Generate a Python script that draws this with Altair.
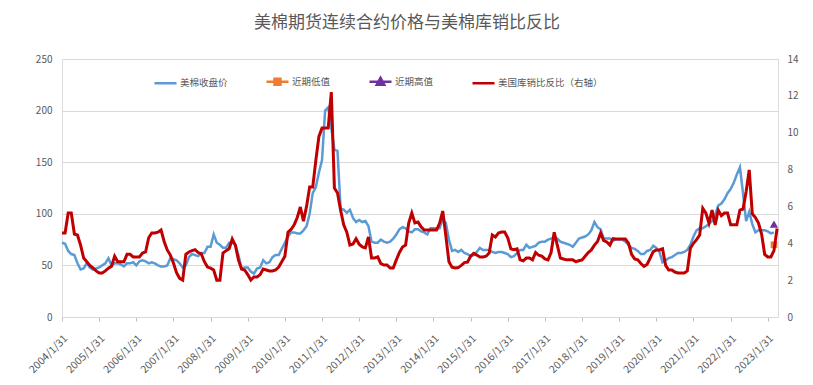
import altair as alt
import pandas as pd

# ---- data (monthly, month index 0 = 2004/1) ----
price = [
    72, 71, 64, 61, 60, 52, 46, 47, 52, 48, 46, 47,          # 2004
    48, 50, 52, 57, 50, 52, 52, 51, 49, 52, 52, 53,          # 2005
    50, 54, 55, 54, 52, 53, 52, 50, 49, 49, 50, 57,          # 2006
    56, 55, 52, 48, 50, 58, 61, 60, 59, 62, 62, 68,          # 2007
    68, 80, 72, 70, 67, 67, 72, 72, 70, 60, 47, 48,          # 2008
    48, 44, 42, 47, 48, 55, 52, 53, 58, 60, 60, 66,          # 2009
    72, 78, 82, 82, 81, 81, 84, 88, 100, 120, 126, 140,      # 2010
    152, 200, 203, 183, 162, 161, 105, 104, 101, 104, 96, 92,  # 2011
    94, 92, 93, 88, 73, 72, 72, 75, 73, 72, 73, 76,          # 2012
    80, 85, 87, 86, 83, 82, 85, 85, 83, 82, 80, 86,          # 2013
    86, 86, 86, 95, 91, 75, 64, 65, 63, 65, 62, 61,          # 2014
    59, 60, 63, 67, 65, 65, 65, 63, 62, 63, 63, 62,          # 2015
    61, 58, 59, 62, 65, 65, 70, 67, 68, 69, 72, 73,          # 2016
    73, 75, 76, 77, 76, 73, 72, 71, 70, 68, 72, 76,          # 2017
    77, 78, 80, 84, 92, 87, 85, 76, 76, 76, 74, 75,          # 2018
    75, 75, 73, 70, 67, 66, 64, 61, 61, 64, 65, 69,          # 2019
    67, 63, 53, 55, 57, 58, 60, 62, 62, 63, 65, 70,          # 2020
    78, 84, 86, 86, 88, 90, 93, 99, 108, 110, 114, 120,      # 2021
    124, 130, 138, 145, 120, 93, 102, 90, 82, 84, 84, 84,    # 2022
    83, 81, 82,                                              # 2023
]

ratio = [
    4.56, 4.56, 5.64, 5.64, 4.5, 4.45, 3.9, 3.2, 3.0, 2.8, 2.66, 2.5,        # 2004
    2.39, 2.39, 2.5, 2.65, 2.75, 3.3, 3.0, 3.0, 3.0, 3.4, 3.4, 3.26,         # 2005
    3.26, 3.26, 3.47, 3.53, 4.3, 4.56, 4.56, 4.6, 4.72, 4.1, 3.64, 3.36,     # 2006
    2.93, 2.4, 2.1, 2.0, 3.4, 3.53, 3.6, 3.65, 3.5, 3.42, 3.0, 2.71,         # 2007
    2.65, 2.55, 2.0, 2.0, 3.47, 3.6, 3.7, 4.23, 3.9, 3.1, 2.6, 2.55,         # 2008
    2.3, 2.0, 2.17, 2.17, 2.3, 2.6, 2.55, 2.5, 2.5, 2.55, 2.71, 3.0,         # 2009
    3.3, 4.6, 4.75, 5.0, 5.4, 5.97, 5.2, 6.0, 7.05, 7.05, 8.5, 9.8,          # 2010
    10.25, 10.25, 10.25, 12.2, 7.0, 6.73, 5.8, 5.0, 4.6, 3.9, 3.96, 4.25,    # 2011
    3.95, 3.8, 3.75, 4.34, 3.2, 3.2, 3.26, 2.9, 2.82, 2.82, 2.66, 2.66,      # 2012
    3.1, 3.5, 3.8, 3.9, 5.1, 5.64, 5.1, 5.15, 4.9, 4.72, 4.72, 4.72,         # 2013
    4.72, 4.72, 5.1, 5.75, 4.4, 3.0, 2.7, 2.66, 2.68, 2.8, 2.95, 2.98,       # 2014
    3.3, 3.45, 3.36, 3.26, 3.26, 3.3, 3.47, 4.45, 4.34, 4.56, 4.61, 4.61,    # 2015
    4.3, 3.7, 3.65, 3.7, 3.1, 3.05, 3.2, 3.2, 3.1, 3.5, 3.35, 3.3,           # 2016
    3.15, 3.1, 3.5, 4.6, 3.9, 3.2, 3.15, 3.1, 3.1, 3.1, 3.0, 3.05,           # 2017
    3.1, 3.3, 3.5, 3.64, 3.9, 4.1, 4.55, 4.15, 4.07, 3.9, 4.25, 4.23,        # 2018
    4.23, 4.23, 4.23, 4.0, 3.4, 3.15, 3.1, 2.9, 2.75, 2.85, 3.2, 3.55,       # 2019
    3.64, 3.64, 3.7, 2.8, 2.55, 2.55, 2.44, 2.39, 2.39, 2.39, 2.5, 3.74,     # 2020
    4.0, 4.2, 4.45, 5.9, 5.64, 5.1, 5.8, 5.0, 5.8, 5.5, 5.64, 5.64,          # 2021
    5.0, 5.0, 5.0, 5.8, 5.86, 6.8, 7.98, 5.6, 5.4, 5.1, 4.5, 3.4,            # 2022
    3.26, 3.26, 3.6, 4.8,                                                    # 2023
]

recent_low = [70]
recent_high = [90]
marker_month = [230]

series_names = ["美棉收盘价", "近期低值", "近期高值", "美国库销比反比（右轴）"]
series_colors = ["#5B9BD5", "#ED7D31", "#7030A0", "#C00000"]
legend_shapes = [
    "M-1,0H1",
    "M-1,0H1M-0.27,-0.27H0.27V0.27H-0.27Z",
    "M-1,0H1M0,-0.36L0.34,0.26H-0.34Z",
    "M-1,0H1",
]

year_ticks = list(range(0, 229, 12))
left_ticks = [0, 50, 100, 150, 200, 250]
right_ticks = [0, 2, 4, 6, 8, 10, 12, 14]

title_text = "美棉期货连续合约价格与美棉库销比反比"

# ---- tables ----
price_df = pd.DataFrame({"m": list(range(len(price))), "price": price})
ratio_df = pd.DataFrame({"m": list(range(len(ratio))), "ratio": ratio})
low_df = pd.DataFrame({"m": marker_month, "price": recent_low})
high_df = pd.DataFrame({"m": marker_month, "price": recent_high})
legend_df = pd.DataFrame({"series": series_names})

FONT = "Noto Sans CJK SC"
GREY = "#595959"

x_enc = alt.X(
    "m:Q",
    scale=alt.Scale(domain=[0, 231.3], nice=False, zero=False),
    axis=alt.Axis(
        values=year_ticks,
        labelExpr="(2004 + datum.value / 12) + '/1/31'",
        labelAngle=-45,
        labelAlign="right",
        labelBaseline="top",
        labelPadding=12,
        labelFont=FONT,
        labelFontSize=10.5,
        labelColor=GREY,
        labelOverlap=False,
        labelFlush=False,
        grid=False,
        tickSize=4,
        tickColor="#bfbfbf",
        domainColor="#d9d9d9",
        title=None,
    ),
)

y_left = alt.Y(
    "price:Q",
    scale=alt.Scale(domain=[0, 250], nice=False),
    axis=alt.Axis(
        values=left_ticks,
        grid=True,
        gridColor="#d9d9d9",
        gridWidth=1,
        domain=False,
        ticks=False,
        labelPadding=10,
        labelFont=FONT,
        labelFontSize=10,
        labelColor=GREY,
        title=None,
    ),
)

y_right = alt.Y(
    "ratio:Q",
    scale=alt.Scale(domain=[0, 14], nice=False),
    axis=alt.Axis(
        orient="right",
        values=right_ticks,
        grid=False,
        domain=False,
        ticks=False,
        labelPadding=9,
        labelFont=FONT,
        labelFontSize=10,
        labelColor=GREY,
        title=None,
    ),
)

blue_line = alt.Chart(price_df).mark_line(color="#5B9BD5", strokeWidth=2.5).encode(x=x_enc, y=y_left)

low_mark = alt.Chart(low_df).mark_point(
    shape="square", filled=True, size=45, color="#ED7D31", opacity=1
).encode(x=x_enc, y=y_left)

high_mark = alt.Chart(high_df).mark_point(
    shape="triangle-up", filled=True, size=70, color="#7030A0", opacity=1
).encode(x=x_enc, y=y_left)

leg = alt.Legend(
    title=None,
    orient="none",
    legendX=91,
    legendY=10,
    direction="horizontal",
    symbolSize=484,
    symbolStrokeWidth=2.5,
    labelFont=FONT,
    labelFontSize=9.5,
    labelColor=GREY,
    labelOffset=2,
    columnPadding=33,
    padding=0,
)

legend_layer = (
    alt.Chart(legend_df)
    .transform_filter("false")
    .mark_point(size=484, strokeWidth=2.5, opacity=1)
    .encode(
        x=x_enc,
        y=y_left,
        shape=alt.Shape("series:N", scale=alt.Scale(domain=series_names, range=legend_shapes), legend=leg),
        fill=alt.Fill("series:N", scale=alt.Scale(domain=series_names, range=series_colors), legend=leg),
        stroke=alt.Stroke("series:N", scale=alt.Scale(domain=series_names, range=series_colors), legend=leg),
    )
)

left_group = alt.layer(blue_line, low_mark, high_mark, legend_layer)

red_line = alt.Chart(ratio_df).mark_line(color="#C00000", strokeWidth=3).encode(x=x_enc, y=y_right)

chart = (
    alt.layer(left_group, red_line)
    .resolve_scale(y="independent")
    .properties(
        width=716,
        height=258,
        autosize=alt.AutoSizeParams(type="none"),
        padding={"left": 54, "top": 51, "right": 26, "bottom": 59},
        title=alt.TitleParams(
            text=title_text,
            font=FONT,
            fontSize=17,
            fontWeight="normal",
            color=GREY,
            anchor="middle",
            frame="group",
            dx=-13,
            offset=22,
        ),
    )
    .configure_view(stroke=None)
    .configure(background="white")
)

chart.save("out.html", embed_options={"renderer": "svg", "actions": False})
